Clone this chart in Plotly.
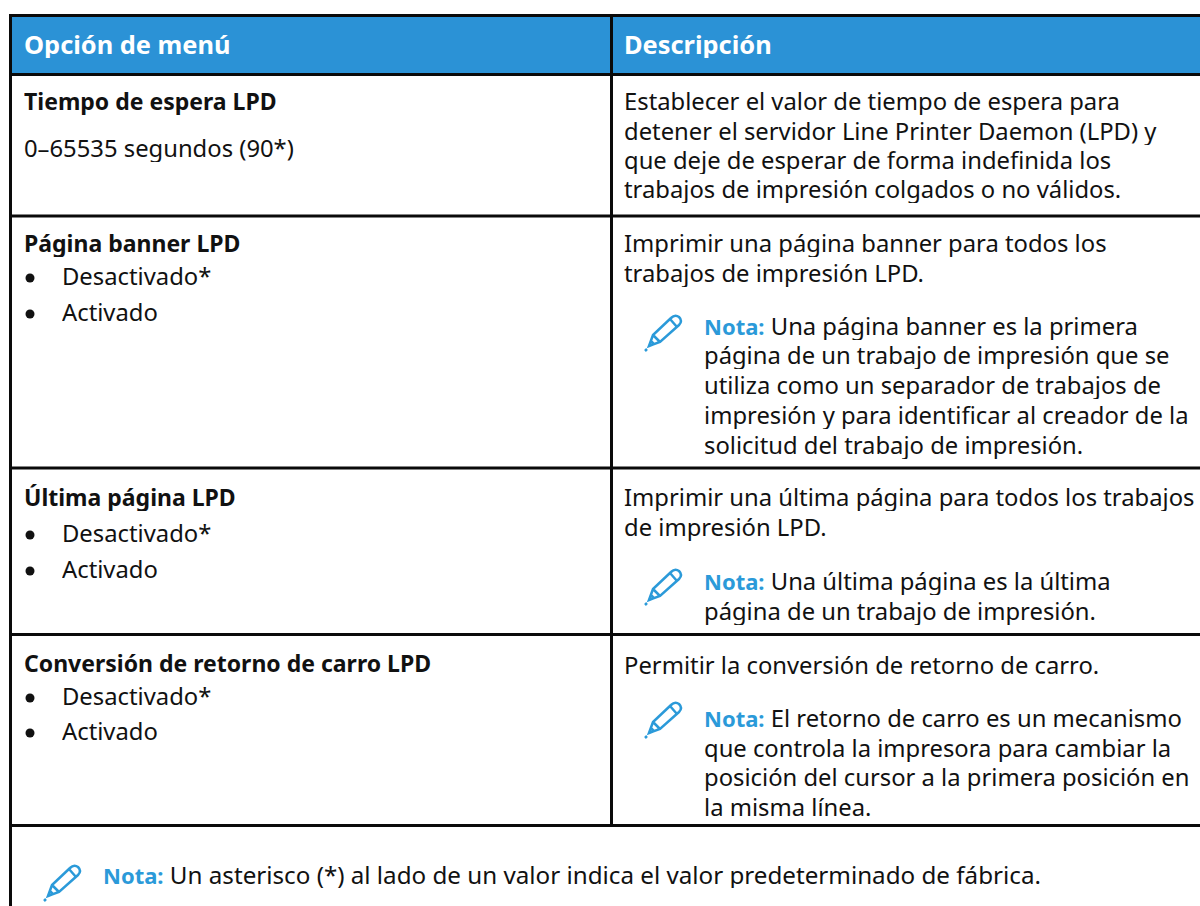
import plotly.graph_objects as go

W, H = 1200, 906
FONT = "Noto Sans"
BLACK = "#0a0a0a"
TEXT = "#111111"
BLUE = "#2b92d6"
NOTE_BLUE = "#2b9ad9"
NOTE_TAG = "<span style='color:%s;font-size:22px;font-weight:bold'>Nota:</span>" % NOTE_BLUE

header_labels = ["Opción de menú", "Descripción"]
h_rules = [15.5, 74.5, 216, 468, 634.5, 825.5]
v_rules = [10.5, 611.5]

left_lines = [
    (101, "<b>Tiempo de espera LPD</b>"), (148, "0–65535 segundos (90*)"),
    (243, "<b>Página banner LPD</b>"), (276, "Desactivado*"), (312, "Activado"),
    (497, "<b>Última página LPD</b>"), (533, "Desactivado*"), (569, "Activado"),
    (663, "<b>Conversión de retorno de carro LPD</b>"), (696, "Desactivado*"), (731, "Activado"),
]
bullet_rows = [276, 312, 533, 569, 696, 731]
right_lines = [
    (101, "Establecer el valor de tiempo de espera para"),
    (131, "detener el servidor Line Printer Daemon (LPD) y"),
    (160, "que deje de esperar de forma indefinida los"),
    (189, "trabajos de impresión colgados o no válidos."),
    (243, "Imprimir una página banner para todos los"),
    (273, "trabajos de impresión LPD."),
    (497, "Imprimir una última página para todos los trabajos"),
    (527, "de impresión LPD."),
    (665, "Permitir la conversión de retorno de carro."),
]
note_lines = [
    (326, NOTE_TAG + " Una página banner es la primera"),
    (355, "página de un trabajo de impresión que se"),
    (385, "utiliza como un separador de trabajos de"),
    (415, "impresión y para identificar al creador de la"),
    (445, "solicitud del trabajo de impresión."),
    (581, NOTE_TAG + " Una última página es la última"),
    (611, "página de un trabajo de impresión."),
    (718, NOTE_TAG + " El retorno de carro es un mecanismo"),
    (748, "que controla la impresora para cambiar la"),
    (777, "posición del cursor a la primera posición en"),
    (807, "la misma línea."),
]
footer = NOTE_TAG + " Un asterisco (*) al lado de un valor indica el valor predeterminado de fábrica."
pencils = [(663, 333), (663, 587), (663, 720), (62, 883)]

fig = go.Figure()
fig.add_trace(go.Scatter(x=[30] * len(bullet_rows), y=[b + 2 for b in bullet_rows], mode="markers",
                         marker=dict(size=9, color=TEXT), hoverinfo="skip"))
shapes = [dict(type="rect", x0=10, x1=W, y0=15, y1=75, fillcolor=BLUE, line_width=0, layer="below")]
for y in h_rules:
    shapes.append(dict(type="line", x0=9, x1=W, y0=y, y1=y, line=dict(color=BLACK, width=3)))
shapes.append(dict(type="line", x0=v_rules[0], x1=v_rules[0], y0=14, y1=H, line=dict(color=BLACK, width=3)))
shapes.append(dict(type="line", x0=v_rules[1], x1=v_rules[1], y0=14, y1=h_rules[-1], line=dict(color=BLACK, width=3)))


def pencil(cx, cy):
    def p(a, b):
        return f"{cx+a},{cy+b}"
    d = (f"M{p(-14,13)} L{p(-10,2)} L{p(8,-15)} Q{p(12,-19)} {p(16,-16)} Q{p(20,-12)} {p(16,-8)} L{p(-3,9)} Z"
         f" M{p(-10,2)} L{p(-3,9)} M{p(7,-14)} L{p(14,-6)} M{p(-18,18)} L{p(-16,16)}"
         f" M{p(-14,13)} L{p(-9,11)} L{p(-12,8)} Z")
    return dict(type="path", path=d, line=dict(color=NOTE_BLUE, width=2.5), fillcolor="rgba(0,0,0,0)")


for cx, cy in pencils:
    shapes.append(pencil(cx, cy))


def txt(x, y, s, size=23.8, color=TEXT):
    return dict(x=x, y=y, text=s, xref="x", yref="y", showarrow=False, xanchor="left", yanchor="middle",
                align="left", height=28, borderpad=0, font=dict(family=FONT, size=size, color=color))


ann = [txt(23, 44, f"<b>{header_labels[0]}</b>", 25.4, "white"),
       txt(623, 44, f"<b>{header_labels[1]}</b>", 25.4, "white")]
for y, s in left_lines:
    bold = s.startswith("<b>")
    ann.append(txt(61 if y in bullet_rows else 23, y, s, 23 if bold else 23.8))
for y, s in right_lines:
    ann.append(txt(623, y, s))
for y, s in note_lines:
    ann.append(txt(703, y, s))
ann.append(txt(102, 874, footer, 24.2))

fig.update_layout(
    width=W, height=H, margin=dict(l=0, r=0, t=0, b=0), paper_bgcolor="white", plot_bgcolor="white",
    xaxis=dict(range=[0, W], visible=False, fixedrange=True),
    yaxis=dict(range=[H, 0], visible=False, fixedrange=True),
    shapes=shapes, annotations=ann, showlegend=False,
)
fig.write_html("out.html", config={"displayModeBar": False},
               post_script="document.body.style.margin='0';document.body.style.overflow='hidden';")
